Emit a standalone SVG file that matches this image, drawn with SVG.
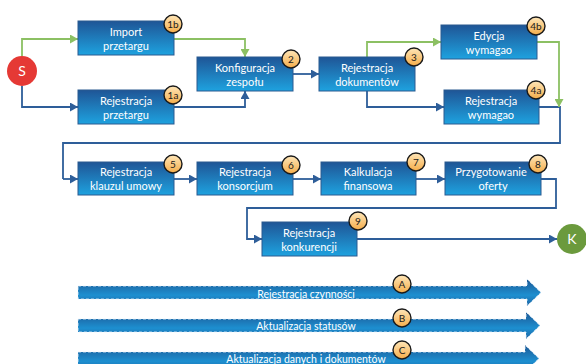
<svg xmlns="http://www.w3.org/2000/svg" width="586" height="364" viewBox="0 0 586 364">
<defs>
<linearGradient id="gBox" x1="0" y1="0" x2="0" y2="1">
<stop offset="0" stop-color="#1f5596"/>
<stop offset="1" stop-color="#1ea2df"/>
</linearGradient>
<linearGradient id="gBadge" x1="0" y1="0" x2="0" y2="1">
<stop offset="0" stop-color="#fee6b8"/>
<stop offset="1" stop-color="#f5ad4a"/>
</linearGradient>
<linearGradient id="gBar" x1="0" y1="0" x2="0" y2="1">
<stop offset="0" stop-color="#1d5895"/>
<stop offset="0.6" stop-color="#1d8fd0"/>
<stop offset="1" stop-color="#1f65a4"/>
</linearGradient>
<marker id="aB" markerUnits="userSpaceOnUse" markerWidth="9" markerHeight="9" refX="8" refY="4.5" orient="auto">
<path d="M0,0 L8,4.5 L0,9 z" fill="#2e5e99"/>
</marker>
<marker id="aG" markerUnits="userSpaceOnUse" markerWidth="9" markerHeight="9" refX="8" refY="4.5" orient="auto">
<path d="M0,0 L8,4.5 L0,9 z" fill="#8cc063"/>
</marker>
</defs>
<style>
.box{fill:url(#gBox);stroke:#2a5a90;stroke-width:1}
.bt{font-family:Lato,"Liberation Sans",sans-serif;font-size:11px;fill:#ffffff;text-anchor:middle}
.badge{fill:url(#gBadge);stroke:#1a1a1a;stroke-width:1.4}
.bdt{font-family:Lato,"Liberation Sans",sans-serif;font-size:10px;fill:#1a1a1a;text-anchor:middle}
.cb{fill:none;stroke:#2e5e99;stroke-width:1.8;marker-end:url(#aB)}
.cg{fill:none;stroke:#8cc063;stroke-width:1.8;marker-end:url(#aG)}
.cbn{fill:none;stroke:#2e5e99;stroke-width:1.8}
.bar{fill:url(#gBar);stroke:#e8f2fb;stroke-width:0.8;stroke-dasharray:3 2}
.bart{font-family:Lato,"Liberation Sans",sans-serif;font-size:10.5px;fill:#ffffff;text-anchor:middle}
.term{font-family:Lato,"Liberation Sans",sans-serif;font-size:14px;fill:#ffffff;text-anchor:middle}
</style>

<g id="connectors">
<path class="cg" d="M22,56 V39 H78"/>
<path class="cb" d="M22,86 V107 H78"/>
<path class="cg" d="M174,39 H245 V57"/>
<path class="cb" d="M174,107 H245 V91"/>
<path class="cb" d="M293,74 H319"/>
<path class="cg" d="M367,57 V42 H441"/>
<path class="cb" d="M367,91 V107 H444"/>
<path class="cbn" d="M539,107 H560 V143 H63 V179"/>
<path class="cb" d="M63,179 H78"/>
<path class="cg" d="M537,42 H559 V107"/>
<path class="cb" d="M174,179 H197"/>
<path class="cb" d="M293,179 H321"/>
<path class="cb" d="M416,179 H445"/>
<path class="cb" d="M541,179 H556 V208 H247 V239 H262"/>
<path class="cb" d="M357,239 H557"/>
</g>

<g id="S"><circle cx="22" cy="71" r="15" fill="#e53935"/><text class="term" x="22" y="76">S</text></g>
<g id="K"><circle cx="572" cy="239" r="15" fill="#6b9a3d"/><text class="term" x="572" y="244">K</text></g>

<g id="n1b"><rect class="box" x="78" y="21" width="96" height="34"/><text class="bt" x="126" y="36">Import</text><text class="bt" x="126" y="50">przetargu</text><circle class="badge" cx="173" cy="24" r="9"/><text class="bdt" x="173" y="28">1b</text></g>
<g id="n1a"><rect class="box" x="78" y="90" width="96" height="34"/><text class="bt" x="126" y="105">Rejestracja</text><text class="bt" x="126" y="119">przetargu</text><circle class="badge" cx="173" cy="95" r="9"/><text class="bdt" x="173" y="99">1a</text></g>
<g id="n2"><rect class="box" x="197" y="57" width="96" height="34"/><text class="bt" x="245" y="72">Konfiguracja</text><text class="bt" x="245" y="86">zespołu</text><circle class="badge" cx="291" cy="59" r="9"/><text class="bdt" x="291" y="63">2</text></g>
<g id="n3"><rect class="box" x="319" y="57" width="96" height="34"/><text class="bt" x="367" y="72">Rejestracja</text><text class="bt" x="367" y="86">dokumentów</text><circle class="badge" cx="414" cy="57" r="9"/><text class="bdt" x="414" y="61">3</text></g>
<g id="n4b"><rect class="box" x="441" y="25" width="96" height="34"/><text class="bt" x="489" y="40">Edycja</text><text class="bt" x="489" y="54">wymagao</text><circle class="badge" cx="536" cy="26" r="9"/><text class="bdt" x="536" y="30">4b</text></g>
<g id="n4a"><rect class="box" x="444" y="90" width="95" height="34"/><text class="bt" x="491" y="105">Rejestracja</text><text class="bt" x="491" y="119">wymagao</text><circle class="badge" cx="536" cy="90" r="9"/><text class="bdt" x="536" y="94">4a</text></g>
<g id="n5"><rect class="box" x="78" y="162" width="96" height="33"/><text class="bt" x="126" y="176">Rejestracja</text><text class="bt" x="126" y="190">klauzul umowy</text><circle class="badge" cx="173" cy="164" r="9"/><text class="bdt" x="173" y="168">5</text></g>
<g id="n6"><rect class="box" x="197" y="162" width="96" height="33"/><text class="bt" x="245" y="176">Rejestracja</text><text class="bt" x="245" y="190">konsorcjum</text><circle class="badge" cx="291" cy="165" r="9"/><text class="bdt" x="291" y="169">6</text></g>
<g id="n7"><rect class="box" x="321" y="162" width="95" height="33"/><text class="bt" x="368" y="176">Kalkulacja</text><text class="bt" x="368" y="190">finansowa</text><circle class="badge" cx="416" cy="162" r="9"/><text class="bdt" x="416" y="166">7</text></g>
<g id="n8"><rect class="box" x="445" y="162" width="96" height="33"/><text class="bt" x="491" y="176">Przygotowanie</text><text class="bt" x="493" y="190">oferty</text><circle class="badge" cx="538" cy="164" r="9"/><text class="bdt" x="538" y="168">8</text></g>
<g id="n9"><rect class="box" x="262" y="222" width="95" height="34"/><text class="bt" x="309" y="237">Rejestracja</text><text class="bt" x="309" y="251">konkurencji</text><circle class="badge" cx="358" cy="221" r="9"/><text class="bdt" x="358" y="225">9</text></g>

<g id="barA"><path class="bar" d="M78,286 H527 V279 L541,292.5 L527,306 V299 H78 Z"/><text class="bart" x="306" y="298">Rejestracja czynności</text><circle class="badge" cx="402" cy="284" r="9"/><text class="bdt" x="402" y="288">A</text></g>
<g id="barB"><path class="bar" d="M78,319 H526 V312 L540,325.5 L526,339 V332 H78 Z"/><text class="bart" x="306" y="330">Aktualizacja statusów</text><circle class="badge" cx="402" cy="318" r="9"/><text class="bdt" x="402" y="322">B</text></g>
<g id="barC"><path class="bar" d="M78,352 H525 V345 L539,358.5 L525,372 V365 H78 Z"/><text class="bart" x="306" y="363">Aktualizacja danych i dokumentów</text><circle class="badge" cx="402" cy="350" r="9"/><text class="bdt" x="402" y="354">C</text></g>
</svg>
